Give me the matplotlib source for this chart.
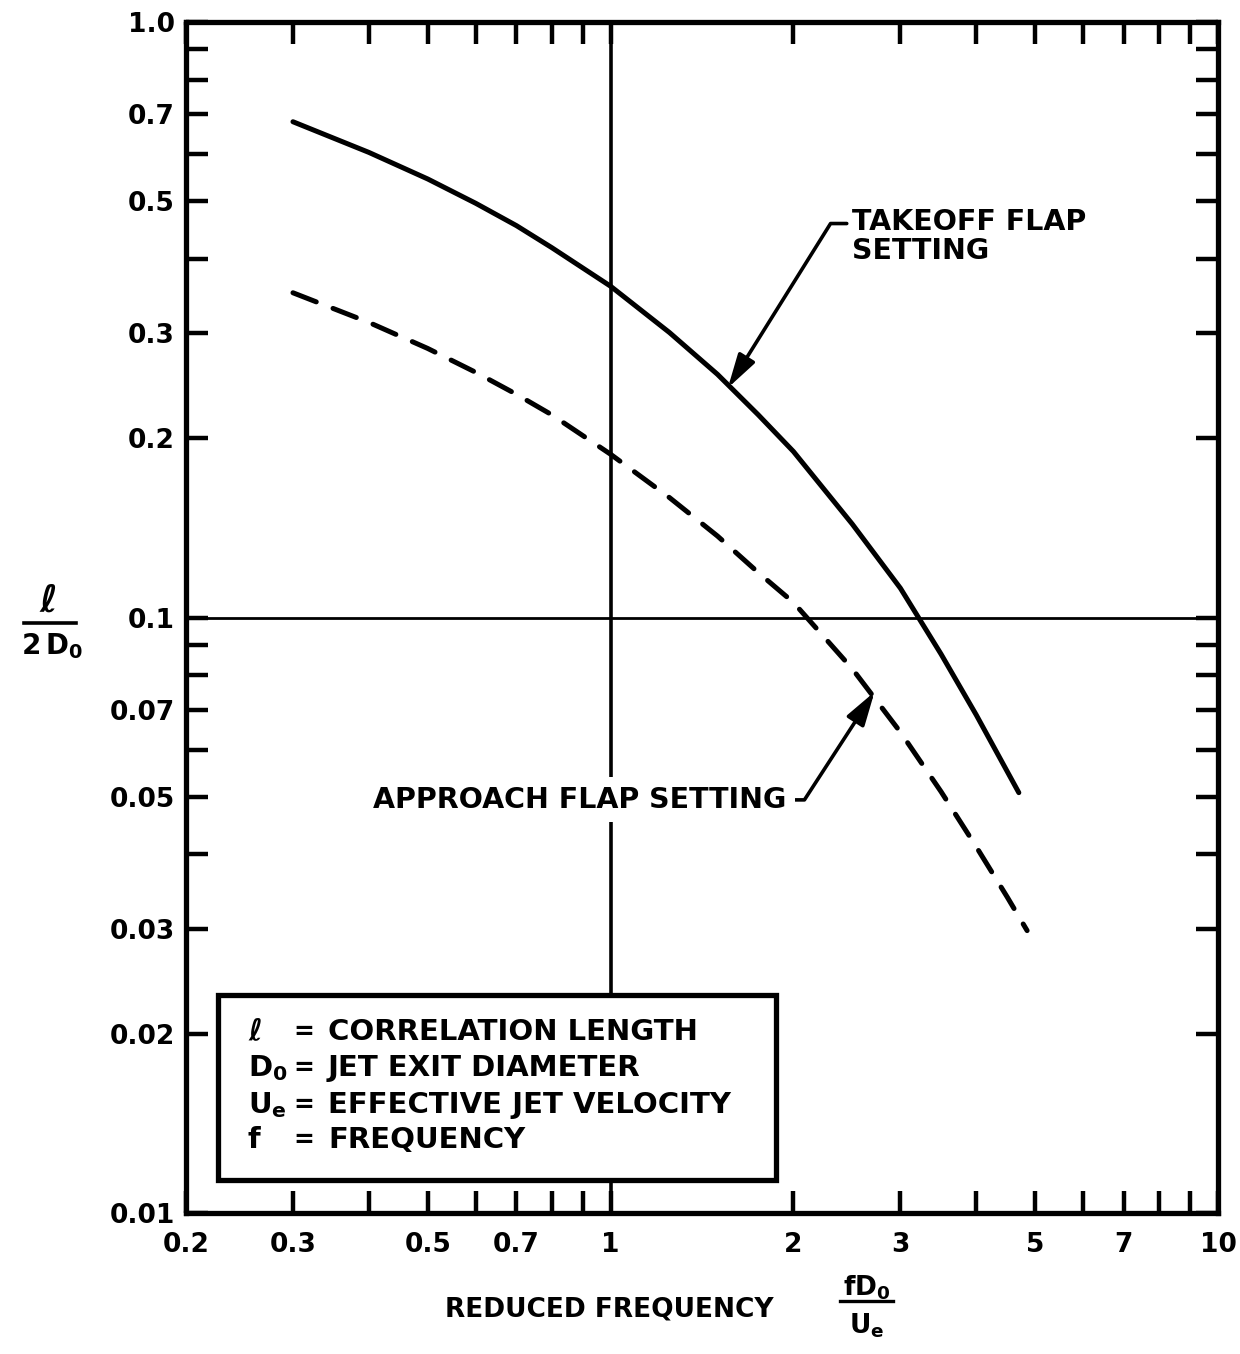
import matplotlib
matplotlib.use('Agg')
import matplotlib.pyplot as plt
from matplotlib.ticker import FixedLocator, FixedFormatter, NullFormatter
from matplotlib.lines import Line2D
from matplotlib.patches import Rectangle

plt.rcParams['font.family'] = ['DejaVu Sans']
plt.rcParams['font.weight'] = 'bold'
plt.rcParams['mathtext.fontset'] = 'dejavusans'
plt.rcParams['mathtext.default'] = 'bf'

# ---- data ----
freq_takeoff = [0.3, 0.4, 0.5, 0.6, 0.7, 0.8, 1.0, 1.25, 1.5, 1.75, 2.0, 2.5, 3.0, 3.5, 4.0, 4.7]
corr_takeoff = [0.68, 0.604, 0.545, 0.496, 0.455, 0.418, 0.36, 0.301, 0.256, 0.219, 0.19, 0.1435, 0.112, 0.0868, 0.0686, 0.0508]
freq_approach = [0.3, 0.4, 0.5, 0.6, 0.7, 0.8, 1.0, 1.25, 1.5, 1.75, 2.0, 2.5, 3.0, 3.5, 4.0, 4.5, 4.85]
corr_approach = [0.351, 0.313, 0.283, 0.258, 0.237, 0.219, 0.188, 0.159, 0.137, 0.119, 0.106, 0.082, 0.0642, 0.051, 0.0412, 0.0339, 0.0298]

x_major = [0.2, 0.3, 0.5, 0.7, 1, 2, 3, 5, 7, 10]
x_major_labels = ['0.2', '0.3', '0.5', '0.7', '1', '2', '3', '5', '7', '10']
x_minor = [0.4, 0.6, 0.8, 0.9, 4, 6, 8, 9]
y_major = [0.01, 0.02, 0.03, 0.05, 0.07, 0.1, 0.2, 0.3, 0.5, 0.7, 1.0]
y_major_labels = ['0.01', '0.02', '0.03', '0.05', '0.07', '0.1', '0.2', '0.3', '0.5', '0.7', '1.0']
y_minor = [0.04, 0.06, 0.08, 0.09, 0.4, 0.6, 0.8, 0.9]

legend_lines = [(r'$\ell$', '=', 'CORRELATION LENGTH'),
                (r'$D_0$', '=', 'JET EXIT DIAMETER'),
                (r'$U_e$', '=', 'EFFECTIVE JET VELOCITY'),
                ('f', '=', 'FREQUENCY')]

W, H = 1240, 1354
fig = plt.figure(figsize=(W / 100, H / 100), dpi=100)

def fx(px):
    return px / W

def fy(py):
    return 1 - py / H

ax = fig.add_axes([fx(186), fy(1213), fx(1218) - fx(186), fy(22) - fy(1213)])
ax.set_xscale('log')
ax.set_yscale('log')
ax.set_xlim(0.2, 10)
ax.set_ylim(0.01, 1.0)

ax.plot(freq_takeoff, corr_takeoff, color='black', lw=3.6, solid_capstyle='round',
        solid_joinstyle='round', zorder=3)
ax.plot(freq_approach, corr_approach, color='black', lw=3.6, dashes=(5, 3.6),
        dash_capstyle='round', zorder=3)

# reference grid lines
ax.axhline(0.1, color='black', lw=2.0, zorder=1)
ax.axvline(1.0, color='black', lw=2.6, zorder=1)

ax.xaxis.set_major_locator(FixedLocator(x_major))
ax.xaxis.set_major_formatter(FixedFormatter(x_major_labels))
ax.xaxis.set_minor_locator(FixedLocator(x_minor))
ax.xaxis.set_minor_formatter(NullFormatter())
ax.yaxis.set_major_locator(FixedLocator(y_major))
ax.yaxis.set_major_formatter(FixedFormatter(y_major_labels))
ax.yaxis.set_minor_locator(FixedLocator(y_minor))
ax.yaxis.set_minor_formatter(NullFormatter())

for which in ('major', 'minor'):
    ax.tick_params(axis='both', which=which, direction='in', length=16, width=3.2,
                   top=True, right=True, color='black')
ax.tick_params(axis='x', which='major', labelsize=19, pad=14)
ax.tick_params(axis='y', which='major', labelsize=19, pad=8)
for lab in ax.get_xticklabels() + ax.get_yticklabels():
    lab.set_fontweight('bold')

for sp in ax.spines.values():
    sp.set_linewidth(3.8)

# legend box
ax.add_patch(Rectangle((0.031, 0.028), 0.541, 0.155, transform=ax.transAxes,
                       facecolor='white', edgecolor='black', lw=3.8, zorder=4))
line_y = [1032, 1068, 1105, 1140]
for (sym, eq, desc), py in zip(legend_lines, line_y):
    fig.text(fx(248), fy(py), sym, fontsize=21, fontweight='bold', va='center', ha='left', zorder=5)
    fig.text(fx(293), fy(py), eq, fontsize=18, fontweight='bold', va='center', ha='left', zorder=5)
    fig.text(fx(328), fy(py), desc, fontsize=21, fontweight='bold', va='center', ha='left', zorder=5)

# annotations
ax.annotate('TAKEOFF FLAP\nSETTING', xy=(1.56, 0.243), xytext=(2.5, 0.437),
            fontsize=20.5, fontweight='bold', ha='left', va='center', linespacing=1.05,
            arrowprops=dict(arrowstyle='-|>,head_length=1.0,head_width=0.28', color='black', lw=2.6,
                            relpos=(0, 0.72), shrinkA=2, shrinkB=0,
                            connectionstyle='angle,angleA=0,angleB=58,rad=0'), zorder=6)
ax.annotate('APPROACH FLAP SETTING', xy=(2.72, 0.075), xytext=(1.95, 0.0494),
            fontsize=20.5, fontweight='bold', ha='right', va='center',
            bbox=dict(boxstyle='square,pad=0.3', facecolor='white', edgecolor='none'),
            arrowprops=dict(arrowstyle='-|>,head_length=1.0,head_width=0.3', color='black', lw=2.6,
                            relpos=(1, 0.5), shrinkA=0, shrinkB=0,
                            connectionstyle='angle,angleA=0,angleB=57,rad=0'), zorder=6)

# y-axis label as a fraction
fig.text(fx(48), fy(602), r'$\ell$', fontsize=27, ha='center', va='center')
fig.add_artist(Line2D([fx(24), fx(76)], [fy(623), fy(623)], color='black', lw=2.6))
fig.text(fx(52), fy(646), r'$2\,D_0$', fontsize=20, ha='center', va='center')

# x-axis label
fig.text(fx(445), fy(1310), 'REDUCED FREQUENCY', fontsize=19, fontweight='bold', ha='left', va='center')
fig.text(fx(867), fy(1288), r'$fD_0$', fontsize=19, ha='center', va='center')
fig.add_artist(Line2D([fx(840), fx(893)], [fy(1301), fy(1301)], color='black', lw=2.4))
fig.text(fx(867), fy(1326), r'$U_e$', fontsize=19, ha='center', va='center')

fig.savefig('out.png', dpi=100, facecolor='white')
